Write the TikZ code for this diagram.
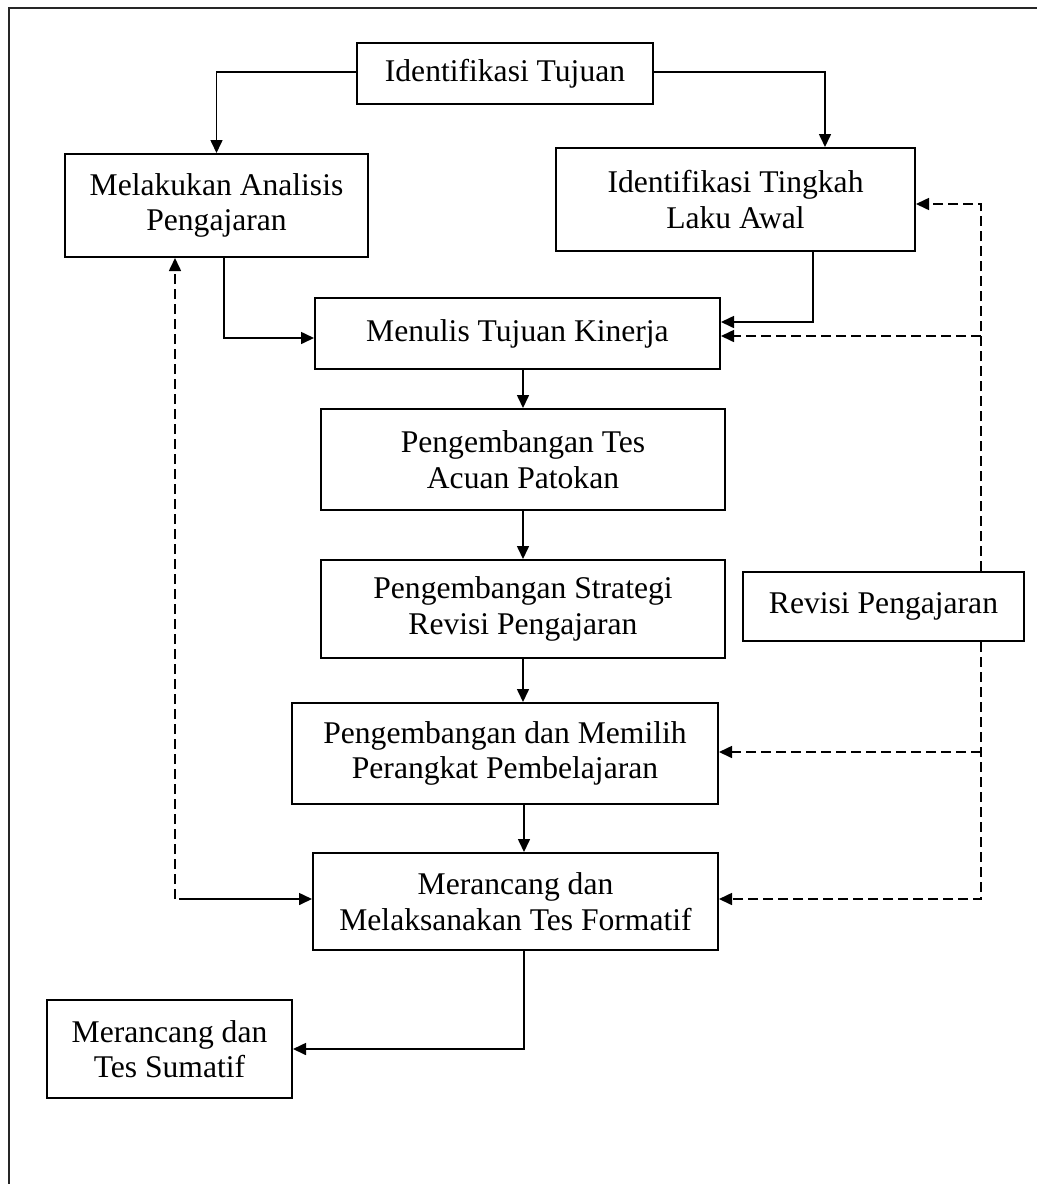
\documentclass[tikz,border=0pt]{standalone}
\usepackage{fontspec}
\setmainfont{Liberation Serif}
\usepackage{tikz}
\usetikzlibrary{positioning,arrows.meta,calc}
\tikzset{
  >={Triangle[length=6.5pt,width=6pt]},
  procbox/.style={draw=black,line width=1pt,align=center,inner sep=2pt,
    font=\fontsize{15.8}{17.8}\selectfont},
  flow/.style={->,line width=0.8pt},
  fback/.style={->,line width=0.8pt,dash pattern=on 5pt off 2.5pt},
  frameln/.style={line width=0.8pt,black!85},
}

\begin{document}
\begin{tikzpicture}[x=0.5pt,y=-0.5pt]
  \useasboundingbox (0,0) rectangle (1037,1184);
  \draw[frameln] (1037,8) -- (9,8) -- (9,1184);

  \node[procbox,minimum width=148pt,minimum height=30.5pt] (tujuan) at (505,73.5) {Identifikasi Tujuan};
  \node[procbox,minimum width=151.5pt,minimum height=51.5pt] (analisis) at (216.5,205.5) {Melakukan Analisis\\Pengajaran};
  \node[procbox,minimum width=179.5pt,minimum height=51.5pt] (awal) at (735.5,199.5) {Identifikasi Tingkah\\Laku Awal};
  \node[procbox,minimum width=202.5pt,minimum height=35.5pt] (kinerja) at (517.5,333.5) {Menulis Tujuan Kinerja};
  \node[procbox,minimum width=202pt,minimum height=50.5pt] (tes) at (523,459.5) {Pengembangan Tes\\Acuan Patokan};
  \node[procbox,minimum width=202pt,minimum height=49pt] (strategi) at (523,609) {Pengembangan Strategi\\Revisi Pengajaran};
  \node[procbox,minimum width=140.5pt,minimum height=34.5pt] (revisi) at (883.5,606.5) {Revisi Pengajaran};
  \node[procbox,minimum width=213pt,minimum height=50.5pt] (perangkat) at (505,753.5) {Pengembangan dan Memilih\\Perangkat Pembelajaran};
  \node[procbox,minimum width=202.5pt,minimum height=48.5pt] (formatif) at (515.5,901.5) {Merancang dan\\Melaksanakan Tes Formatif};
  \node[procbox,minimum width=122.5pt,minimum height=49pt] (sumatif) at (169.5,1049) {Merancang dan\\Tes Sumatif};

  \coordinate (rtop) at ([xshift=48.75pt]revisi.north);
  \coordinate (rbot) at ([xshift=48.75pt]revisi.south);
  \coordinate (kin-in) at ([yshift=-1.25pt]kinerja.east);
  \coordinate (per-in) at ([yshift=0.75pt]perangkat.east);
  \coordinate (lk) at (175,899);

  \draw[flow] ([yshift=0.75pt]tujuan.west) -| (analisis.north);
  \draw[flow] ([yshift=0.75pt]tujuan.east) -| ([xshift=44.75pt]awal.north);
  \draw[flow] ([xshift=3.75pt]analisis.south) |- ([yshift=-2.25pt]kinerja.west);
  \draw[flow] ([xshift=38.75pt]awal.south) |- ([yshift=5.75pt]kinerja.east);
  \draw[flow] (tes.north |- kinerja.south) -- (tes.north);
  \draw[flow] (tes.south) -- (strategi.north);
  \draw[flow] (strategi.south) -- (strategi.south |- perangkat.north);
  \draw[flow] ([xshift=9.5pt]perangkat.south) -- ([xshift=9.5pt]perangkat.south |- formatif.north);
  \draw[flow] ([xshift=4.25pt]formatif.south) |- (sumatif.east);

  \draw[fback] (rtop) |- ([yshift=-2.25pt]awal.east);
  \draw[fback] (rtop |- kin-in) -- (kin-in);
  \draw[fback] (rbot) |- ([yshift=1.25pt]formatif.east);
  \draw[fback] (rbot |- per-in) -- (per-in);
  \draw[fback] (lk) -- (lk |- analisis.south);
  \draw[flow] ([xshift=2pt]lk) -- (formatif.west |- lk);
\end{tikzpicture}
\end{document}
